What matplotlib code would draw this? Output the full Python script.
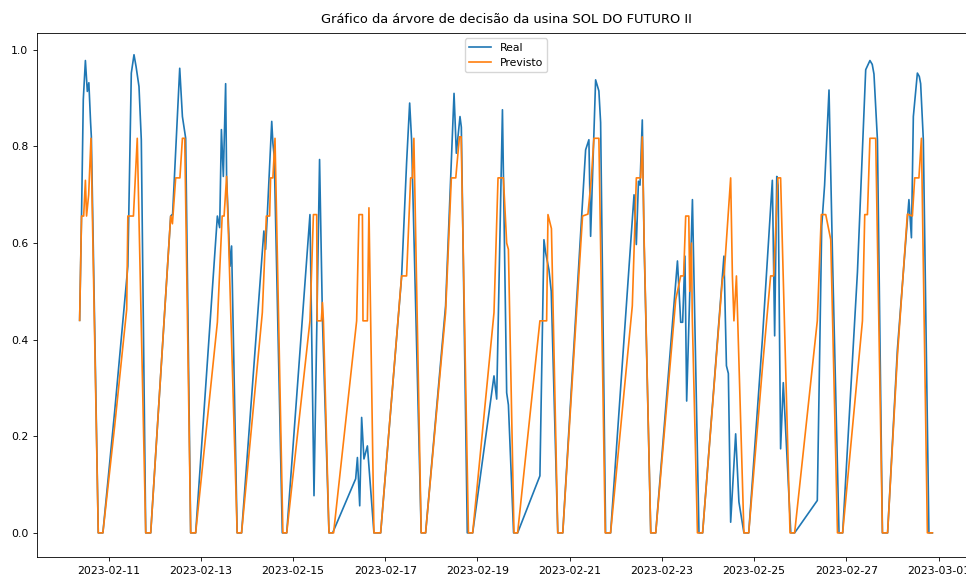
import numpy as np
import pandas as pd
import matplotlib
matplotlib.use("Agg")
import matplotlib.pyplot as plt
import matplotlib.dates as mdates

# ── Data (hours since 2023-02-10 00:00, normalised generation) ──────────────

START = pd.Timestamp("2023-02-10")

real_h = [
    8.9, 9.9, 10.8, 11.9, 12.9, 13.7, 14.6, 15.0, 18.6, 21.0,
    27.1, 34.0, 35.8, 37.2, 38.3, 39.8, 41.0, 43.3, 45.9,
    56.3, 57.3, 61.0, 62.4, 64.1, 66.7, 69.3,
    80.6, 81.8, 82.7, 83.7, 84.9, 85.4, 86.6, 87.2, 88.0, 90.9, 93.2,
    104.8, 105.7, 106.6, 108.9, 109.5, 110.2, 114.4, 116.7,
    128.8, 130.9, 133.8, 135.3, 138.7, 140.6,
    152.6, 153.5, 154.7, 155.7, 156.9, 158.7, 162.1, 165.6,
    176.5, 179.1, 180.7, 181.7, 186.7, 189.0,
    199.4, 202.0, 203.8, 205.0, 206.9, 207.6, 210.7, 213.5,
    224.6, 226.0, 229.0, 231.2, 232.1, 234.8, 236.9,
    248.5, 250.6, 251.5, 253.2, 254.4, 257.8, 260.4,
    269.7, 272.3, 274.0, 274.9, 277.5, 279.2, 280.1, 282.7, 285.3,
    297.5, 298.7, 299.8, 300.6, 301.8, 302.7, 306.2, 308.8,
    320.1, 321.8, 322.8, 324.0, 324.9, 327.9, 328.6, 331.3, 333.2,
    344.3, 345.6, 346.6, 347.8, 350.4, 352.1, 354.7, 357.2,
    364.3, 369.5, 370.7, 371.8, 372.5, 373.8, 375.2, 379.1, 381.1,
    392.9, 395.2, 396.7, 399.0, 400.8, 404.2, 406.1,
    413.8, 416.5, 418.1, 420.3, 421.5, 422.4, 424.2, 426.8, 429.5,
    434.6, 440.6, 441.9, 442.9, 445.0, 446.0, 446.7, 448.1, 451.0, 452.8,
]
real_v = [
    0.44, 0.66, 0.897, 0.978, 0.914, 0.932, 0.85, 0.82, 0.0, 0.0,
    0.25, 0.552, 0.952, 0.99, 0.965, 0.924, 0.814, 0.0, 0.0,
    0.656, 0.66, 0.962, 0.862, 0.817, 0.0, 0.0,
    0.656, 0.632, 0.835, 0.738, 0.93, 0.738, 0.614, 0.552, 0.594, 0.0, 0.0,
    0.625, 0.587, 0.659, 0.852, 0.807, 0.78, 0.0, 0.0,
    0.659, 0.077, 0.773, 0.442, 0.0, 0.0,
    0.112, 0.156, 0.056, 0.239, 0.153, 0.18, 0.0, 0.0,
    0.53, 0.766, 0.89, 0.814, 0.0, 0.0,
    0.47, 0.73, 0.91, 0.786, 0.862, 0.84, 0.0, 0.0,
    0.325, 0.277, 0.876, 0.29, 0.265, 0.0, 0.0,
    0.118, 0.607, 0.58, 0.545, 0.50, 0.0, 0.0,
    0.62, 0.793, 0.814, 0.614, 0.938, 0.915, 0.85, 0.0, 0.0,
    0.70, 0.597, 0.728, 0.72, 0.855, 0.607, 0.0, 0.0,
    0.563, 0.436, 0.436, 0.573, 0.273, 0.69, 0.55, 0.0, 0.0,
    0.573, 0.346, 0.33, 0.022, 0.205, 0.064, 0.0, 0.0,
    0.40, 0.73, 0.408, 0.738, 0.72, 0.174, 0.311, 0.0, 0.0,
    0.067, 0.635, 0.72, 0.917, 0.573, 0.0, 0.0,
    0.54, 0.80, 0.959, 0.978, 0.97, 0.95, 0.814, 0.0, 0.0,
    0.38, 0.69, 0.611, 0.862, 0.952, 0.945, 0.93, 0.814, 0.0, 0.0,
]

prev_h = [
    8.9, 9.9, 11.0, 11.9, 12.5, 13.6, 14.8, 18.6, 21.0,
    27.1, 33.4, 34.0, 36.9, 38.9, 43.3, 45.9,
    56.3, 57.2, 58.9, 61.1, 62.4, 63.6, 66.7, 69.3,
    80.6, 83.1, 84.1, 85.4, 86.5, 90.9, 93.2,
    104.0, 106.1, 107.8, 108.3, 109.5, 110.6, 114.7, 116.7,
    128.8, 130.6, 132.3, 132.6, 134.7, 135.3, 135.8, 138.7, 141.1,
    153.1, 154.3, 156.1, 156.4, 158.7, 159.5, 162.1, 165.6,
    176.5, 179.1, 181.2, 182.1, 182.9, 186.7, 189.0,
    199.4, 202.4, 204.7, 206.6, 207.5, 211.3, 213.5,
    224.6, 226.7, 229.5, 231.2, 232.1, 235.0, 236.9,
    248.5, 252.0, 252.7, 254.5, 257.8, 260.4,
    270.7, 273.5, 275.3, 276.6, 279.2, 282.5, 285.3,
    296.6, 298.7, 301.0, 301.8, 302.8, 306.2, 308.8,
    319.2, 321.8, 323.3, 324.4, 326.0, 326.5, 327.4, 327.8, 330.5, 333.2,
    343.5, 344.4, 347.8, 348.7, 349.5, 350.8, 354.7, 357.2,
    364.3, 368.6, 370.2, 372.4, 373.8, 378.7, 381.1,
    392.9, 395.0, 397.3, 399.9, 403.4, 406.1,
    416.4, 417.6, 419.0, 420.3, 423.3, 426.8, 429.5,
    434.6, 439.8, 442.4, 443.6, 445.8, 447.1, 450.2, 452.8,
]
prev_v = [
    0.44, 0.656, 0.656, 0.73, 0.656, 0.70, 0.817, 0.0, 0.0,
    0.22, 0.463, 0.656, 0.656, 0.817, 0.0, 0.0,
    0.656, 0.64, 0.735, 0.735, 0.817, 0.817, 0.0, 0.0,
    0.436, 0.656, 0.656, 0.738, 0.60, 0.0, 0.0,
    0.456, 0.656, 0.656, 0.735, 0.735, 0.817, 0.0, 0.0,
    0.439, 0.659, 0.659, 0.439, 0.439, 0.477, 0.439, 0.0, 0.0,
    0.439, 0.659, 0.659, 0.439, 0.439, 0.673, 0.0, 0.0,
    0.532, 0.532, 0.735, 0.735, 0.817, 0.0, 0.0,
    0.456, 0.735, 0.735, 0.82, 0.82, 0.0, 0.0,
    0.456, 0.735, 0.735, 0.60, 0.587, 0.0, 0.0,
    0.439, 0.439, 0.659, 0.63, 0.0, 0.0,
    0.656, 0.66, 0.735, 0.817, 0.817, 0.0, 0.0,
    0.47, 0.735, 0.735, 0.82, 0.60, 0.0, 0.0,
    0.483, 0.532, 0.532, 0.656, 0.656, 0.50, 0.60, 0.45, 0.0, 0.0,
    0.525, 0.535, 0.735, 0.532, 0.439, 0.532, 0.0, 0.0,
    0.34, 0.532, 0.532, 0.735, 0.735, 0.0, 0.0,
    0.439, 0.659, 0.659, 0.607, 0.0, 0.0,
    0.439, 0.659, 0.659, 0.817, 0.817, 0.0, 0.0,
    0.366, 0.66, 0.656, 0.735, 0.735, 0.817, 0.0, 0.0,
]

assert len(real_h) == len(real_v)
assert len(prev_h) == len(prev_v)

real_t = START + pd.to_timedelta(real_h, unit="h")
prev_t = START + pd.to_timedelta(prev_h, unit="h")

# ── Plot ─────────────────────────────────────────────────────────────────────

fig = plt.figure(figsize=(9.66, 5.76), dpi=100)
ax = fig.add_axes([37 / 966, 19 / 576, 938 / 966, 524 / 576])

ax.plot(real_t, real_v, color="#1f77b4", lw=1.2, label="Real")
ax.plot(prev_t, prev_v, color="#ff7f0e", lw=1.2, label="Previsto")

ax.set_ylim(-0.05, 1.035)
ax.xaxis.set_major_locator(mdates.DayLocator(bymonthday=range(1, 32, 2)))
ax.xaxis.set_major_formatter(mdates.DateFormatter("%Y-%m-%d"))

ax.tick_params(labelsize=7.8, length=2.8, width=0.6)
for s in ax.spines.values():
    s.set_linewidth(0.6)

ax.set_title("Gráfico da árvore de decisão da usina SOL DO FUTURO II",
             fontsize=9.4, pad=7)
ax.legend(loc="upper center", fontsize=7.8)

fig.savefig("out.png", dpi=100)
